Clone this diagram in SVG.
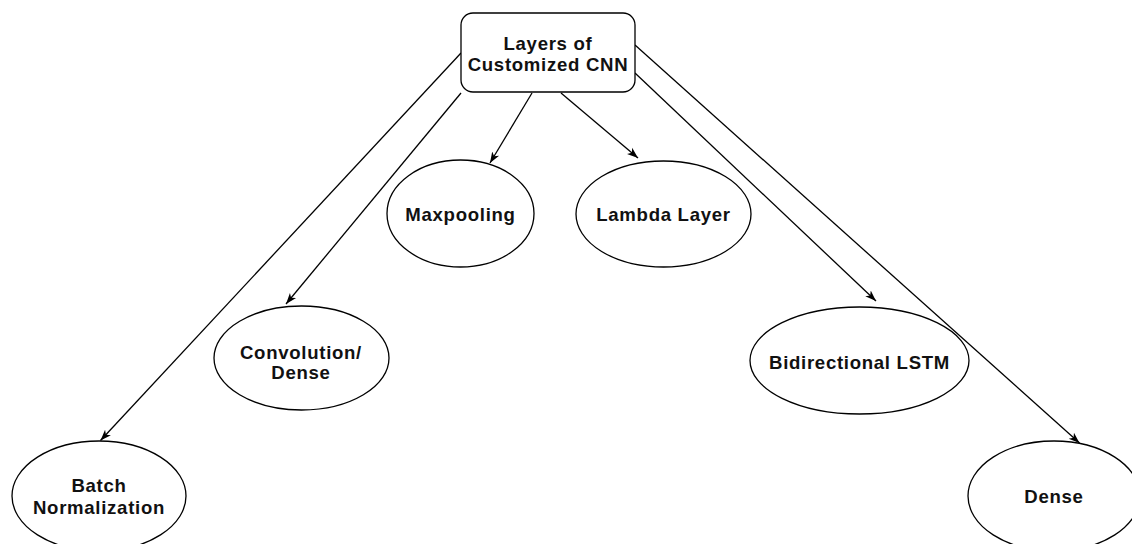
<svg xmlns="http://www.w3.org/2000/svg" width="1132" height="544" viewBox="0 0 1132 544">
<defs>
<style>
.node{fill:#fff;stroke:#000;stroke-width:1.3}
.lbl{font-family:"Liberation Sans",Arial,sans-serif;font-weight:bold;font-size:18.6px;letter-spacing:0.7px;fill:#111;text-anchor:middle}
.edge{fill:none;stroke:#000;stroke-width:1.3}
</style>
<marker id="arr" markerUnits="userSpaceOnUse" markerWidth="12" markerHeight="10" viewBox="0 0 12 10" refX="11" refY="5" orient="auto">
<path d="M0,1 L11,5 L0,9 L3,5 z" fill="#000"/>
</marker>
</defs>
<rect width="1132" height="544" fill="#fff"/>
<g id="connectors">
<path class="edge" d="M461,53 L100.5,440.5" marker-end="url(#arr)"/>
<path class="edge" d="M461,93 L286,304" marker-end="url(#arr)"/>
<path class="edge" d="M532,93 L490,163" marker-end="url(#arr)"/>
<path class="edge" d="M561,93 L638,158" marker-end="url(#arr)"/>
<path class="edge" d="M635,73 L876,301" marker-end="url(#arr)"/>
<path class="edge" d="M635,45 L1079.5,443" marker-end="url(#arr)"/>
</g>
<g id="root">
<rect class="node" x="461" y="13" width="174" height="79" rx="12" ry="12"/>
<text class="lbl" x="548" y="50">Layers of</text>
<text class="lbl" x="548" y="71">Customized CNN</text>
</g>
<g id="batch">
<ellipse class="node" cx="99" cy="496" rx="87" ry="55"/>
<text class="lbl" x="99" y="492">Batch</text>
<text class="lbl" x="99" y="514">Normalization</text>
</g>
<g id="conv">
<ellipse class="node" cx="301.5" cy="358" rx="87.5" ry="52"/>
<text class="lbl" x="301" y="359">Convolution/</text>
<text class="lbl" x="301" y="379">Dense</text>
</g>
<g id="maxpool">
<ellipse class="node" cx="460.5" cy="213.5" rx="73.5" ry="53.5"/>
<text class="lbl" x="460.5" y="221">Maxpooling</text>
</g>
<g id="lambda">
<ellipse class="node" cx="663.5" cy="214" rx="87.5" ry="53"/>
<text class="lbl" x="663.5" y="221">Lambda Layer</text>
</g>
<g id="bilstm">
<ellipse class="node" cx="859.5" cy="360.5" rx="109.5" ry="53.5"/>
<text class="lbl" x="859.5" y="369">Bidirectional LSTM</text>
</g>
<g id="dense">
<ellipse class="node" cx="1054" cy="496" rx="86" ry="55"/>
<text class="lbl" x="1054" y="503">Dense</text>
</g>
</svg>
